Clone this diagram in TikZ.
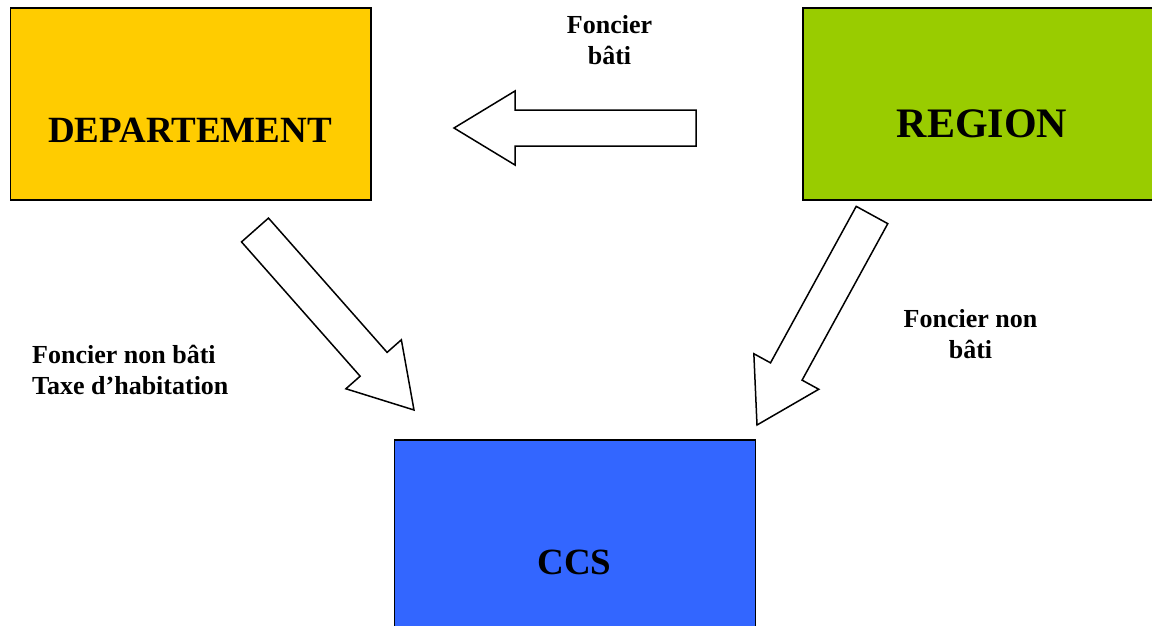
\documentclass[tikz,border=0pt]{standalone}
\usepackage{fontspec}
\setmainfont{Liberation Serif}
\usetikzlibrary{calc}

\newlength{\du}
\setlength{\du}{15\unitlength}

\definecolor{depfill}{rgb}{1.000000, 0.800000, 0.000000}
\definecolor{regfill}{rgb}{0.600000, 0.800000, 0.000000}
\definecolor{ccsfill}{rgb}{0.200000, 0.400000, 1.000000}

\tikzset{
  entity/.style={draw=black, line width=0.130000\du, rectangle, inner sep=0pt},
  entitytext/.style={anchor=base, inner sep=0pt, font=\bfseries},
  flowtext/.style={inner sep=0pt, font=\fontsize{26}{31}\selectfont\bfseries},
  blockarrow/.style={draw=black, fill=white, line width=0.100000\du, line join=miter}
}

% block arrow from tail coordinate #1 to tip coordinate #2
\newcommand{\fatarrow}[2]{%
  \coordinate (#1-base) at ($(#2)!4.066667\du!(#1)$);
  \draw[blockarrow] ($(#1)!1.200000\du!90:(#2)$)
    --($(#1-base)!1.200000\du!90:(#2)$)
    --($(#1-base)!2.466667\du!90:(#2)$)
    --(#2)
    --($(#1-base)!2.466667\du!-90:(#2)$)
    --($(#1-base)!1.200000\du!-90:(#2)$)
    --($(#1)!1.200000\du!-90:(#2)$)--cycle;
}

\begin{document}
\begin{tikzpicture}
\pgftransformxscale{1.000000}
\pgftransformyscale{-1.000000}
\useasboundingbox (0\du,0\du) rectangle (76.800000\du,41.733333\du);
% boxes
\node[entity, fill=depfill, minimum width=24.033333\du, minimum height=12.780000\du] (dep) at (12.716667\du,6.943333\du){};
\node[entitytext, font=\fontsize{37}{44}\selectfont\bfseries] (deptext) at (12.666667\du,9.466667\du){DEPARTEMENT};
\node[entity, fill=regfill, minimum width=23.866667\du, minimum height=12.780000\du] (reg) at (65.466667\du,6.943333\du){};
\node[entitytext, font=\fontsize{42}{50}\selectfont\bfseries] (regtext) at (65.466667\du,9.133333\du){REGION};
\node[entity, fill=ccsfill, minimum width=24.066667\du, minimum height=12.800000\du] (ccs) at (38.333333\du,35.733333\du){};
\node[entitytext, font=\fontsize{37}{44}\selectfont\bfseries] (ccstext) at (38.300000\du,38.266667\du){CCS};
% flows
\coordinate (bati-tail) at (46.400000\du,8.533333\du);
\coordinate (bati-tip) at (30.266667\du,8.533333\du);
\fatarrow{bati-tail}{bati-tip}
\coordinate (depnb-tail) at (17.000000\du,15.333333\du);
\coordinate (depnb-tip) at (27.600000\du,27.333333\du);
\fatarrow{depnb-tail}{depnb-tip}
\coordinate (regnb-tail) at (58.133333\du,14.333333\du);
\coordinate (regnb-tip) at (50.466667\du,28.333333\du);
\fatarrow{regnb-tail}{regnb-tip}
% setfont left to latex
\node[flowtext, anchor=north, align=center] (batitext) at (40.633333\du,1.000000\du){Foncier\\bâti};
\node[flowtext, anchor=north west, align=left] (depnbtext) at (2.133333\du,23.000000\du){Foncier non bâti\\Taxe d’habitation};
\node[flowtext, anchor=north, align=center] (regnbtext) at (64.700000\du,20.600000\du){Foncier non\\bâti};
\end{tikzpicture}
\end{document}
